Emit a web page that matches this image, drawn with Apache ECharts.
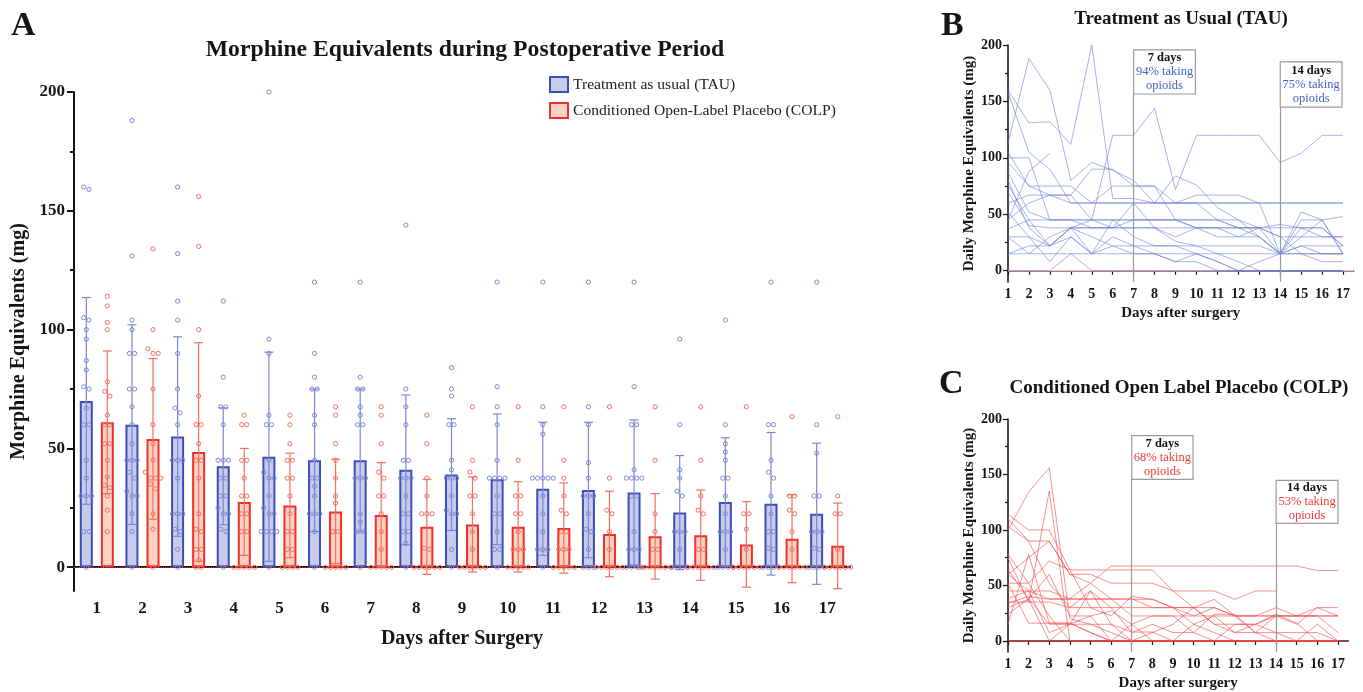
<!DOCTYPE html>
<html><head><meta charset="utf-8">
<script src="https://cdn.jsdelivr.net/npm/echarts@6/dist/echarts.min.js"></script>
<style>html,body{margin:0;padding:0;background:#fff}#c{width:1363px;height:692px}</style>
</head><body><div id="c"></div>
<script>
// ---------- DATA ----------
const days = [1,2,3,4,5,6,7,8,9,10,11,12,13,14,15,16,17];
const dayLabels = ['1','2','3','4','5','6','7','8','9','10','11','12','13','14','15','16','17'];
const yTicks = [0,50,100,150,200];
const yMinor = [25,75,125,175];
const legendNames = ['Treatment as usual (TAU)', 'Conditioned Open-Label Placebo (COLP)'];

// Panel A: means and SDs per day
const tauMean  = [70,60,55,42.5,46.5,45,45,41,39,37,33,32.5,31.5,23,27.5,26.7,22.5];
const tauSD    = [43.5,42,42,24.6,44,30,30,31.5,23.5,27.5,28,28.5,30.5,24,27,30,29.7];
const colpMean = [61,54,48.5,27.5,26,23.5,22,17,18,17,16.5,14,13,13.5,9.6,12,9];
const colpSD   = [30,33.8,46,22.5,22,22,22,20,20,19,19,18,18,19,18,18.5,18];

// Panel A: individual values per day
const tauPoints = [
  [160,159,105,104,100,96,87,83,76,75,67,60,60,45,37.5,30,30,30,15,15,0],
  [188,131,104,100,90,90,75,75,67.5,60,52,45,45,45,40,37.5,32,30,30,22.5,15,0],
  [160,132,112,104,90,75,67,65,60,45,45,45,37.5,22.5,22.5,22.5,16,15,7.5,0],
  [112,80,67.5,67.5,60,45,45,45,37.5,37.5,30,30,25,22.5,22.5,16,15,0],
  [200,96,90,64,60,60,45,40,37.5,37.5,30,25,22.5,22.5,15,15,15,15,0],
  [120,90,80,75,75,64,60,45,37.5,37.5,34,30,22.5,22.5,22.5,15,0],
  [120,80,75,75,67.5,64,60,60,37.5,37.5,37.5,22.5,19,15,15,0],
  [144,75,67.5,60,45,45,37.5,37.5,37.5,30,22.5,22.5,15,15,10,0],
  [84,75,72,60,60,45,41,37.5,37.5,37.5,30,24,22.5,22.5,7.5,0],
  [120,76,67.5,60,45,37.5,37.5,37.5,37.5,30,22.5,22.5,15,7.5,7.5,0],
  [120,67.5,60,56,37.5,37.5,37.5,37.5,37.5,30,22.5,15,7.5,7.5,7.5,0],
  [120,67.5,60,44,37.5,30,30,30,22.5,16,15,7.5,0,0,0],
  [120,76,60,60,41,37.5,37.5,37.5,37.5,30,30,15,7.5,7.5,7.5,0,0,0,0],
  [96,60,41,37.5,32,30,15,15,15,7.5,0,0,0,0],
  [104,60,52,48.5,45,37.5,37.5,30,22.5,15,15,15,7.5,0,0,0,0],
  [120,60,60,45,40,37.5,30,22.5,15,15,8,7.5,0,0,0,0],
  [120,60,48,30,30,15,15,15,8,7.5,0,0,0,0]
];
const colpPoints = [
  [114,110,103,100,78,74,72,64,60,60,52,52,45,38,34.5,33.5,30,24,15],
  [134,100,92,90,90,75,60,52,45,40,37.5,37.5,37.5,35,33,22.5,16,0],
  [156,135,100,72,60,60,52,45,45,37.5,22.5,16,15,7.5,7.5,3,0,0],
  [64,60,60,45,45,37.5,30,30,22.5,22.5,15,15,0,0,0,0,0],
  [64,60,52,45,45,37.5,37.5,30,22.5,15,15,7.5,7.5,0,0,0,0],
  [67.5,64,52,45,37.5,30,27,15,15,0,0,0,0,0],
  [67.5,64,52,40,37.5,30,30,22.5,15,7.5,0,0,0,0,0],
  [64,52,37.5,30,22.5,22.5,22.5,8,7.5,0,0,0,0,0,0],
  [67.5,45,40,37.5,30,30,22.5,15,7.5,0,0,0,0,0,0],
  [67.5,45,30,30,22.5,22.5,15,7.5,7.5,7.5,0,0,0,0,0],
  [67.5,45,37.5,30,24,22.5,15,15,7.5,7.5,7.5,0,0,0,0,0],
  [67.5,37.5,24,22.5,15,7.5,0,0,0,0,0,0],
  [67.5,45,22.5,15,7.5,7.5,0,0,0,0,0,0,0],
  [67.5,45,30,24,22.5,7.5,7.5,0,0,0,0,0,0],
  [67.5,22.5,22.5,16,7.5,0,0,0,0,0,0],
  [63.4,30,30,24,22.5,15,7.5,0,0,0,0,0,0],
  [63.4,30,22.5,22.5,7.5,0,0,0,0,0,0]
];

// Panel B: TAU patient trajectories (days 1..17)
const tauPatients = [
  [113,188,160,80,96,89,80,60,84,76,56,45,30,15,30,45,15],
  [160,131,132,112,200,64,64,60,60,60,45,45,38,30,15,15,15],
  [158,105,90,60,60,60,60,60,60,60,60,60,60,60,60,60,60],
  [105,75,67,67,45,120,120,144,72,120,120,120,120,96,104,120,120],
  [45,88,104,null,null,null,null,null,null,null,null,null,null,null,null,null,null],
  [100,100,45,45,45,45,45,45,45,45,45,38,30,15,15,8,8],
  [96,75,75,75,60,75,75,75,60,67,67,67,60,15,52,45,15],
  [87,52,45,45,38,38,38,38,30,38,38,30,38,41,38,38,22],
  [80,38,22,38,45,38,60,38,26,22,15,8,0,0,0,0,0],
  [76,45,22,30,15,45,30,22,22,15,8,0,8,15,22,15,15],
  [60,67,67,60,60,60,60,60,60,60,60,60,60,60,60,60,60],
  [45,60,67,67,90,90,75,75,45,38,30,30,30,15,38,38,22],
  [30,30,22,38,38,38,45,45,45,45,45,38,38,30,30,30,30],
  [37,45,45,45,45,45,45,45,45,38,38,38,38,38,38,30,30],
  [15,22,22,38,15,22,15,15,8,15,8,0,0,0,0,0,0],
  [15,15,15,15,15,15,15,15,15,15,15,15,15,15,15,15,15],
  [30,15,30,38,30,22,22,22,22,22,22,22,22,15,22,22,22],
  [52,30,8,30,15,30,22,15,8,8,0,0,0,0,0,0,0],
  [0,0,0,15,0,0,0,0,0,0,0,0,0,0,0,0,0],
  [70,40,38,38,38,38,38,38,38,38,38,38,38,15,45,45,48]
];
// Panel C: COLP patient trajectories (days 1..17)
const colpPatients = [
  [100,134,156,20,15,15,8,8,0,0,0,0,0,0,0,0,0],
  [114,100,100,64,64,64,64,64,45,45,45,37.5,45,45,null,null,null],
  [110,90,90,60,60,52,52,52,45,30,30,22.5,22.5,22.5,22.5,22.5,22.5],
  [75,35,135,0,0,0,0,0,0,0,0,0,0,0,0,0,0],
  [45,45,45,38,52,67.5,67.5,67.5,67.5,67.5,67.5,67.5,67.5,67.5,67.5,63.4,63.4],
  [60,75,90,60,52,38,38,30,30,22.5,30,22.5,22.5,30,22.5,30,30],
  [103,90,52,30,45,15,0,0,0,0,0,0,0,0,0,0,0],
  [64,38,15,15,45,30,7.5,15,7.5,7.5,0,15,15,22.5,15,30,22.5],
  [52,52,72,64,30,22.5,40,37.5,30,30,37.5,22.5,7.5,22.5,22.5,22.5,7.5],
  [38,45,38,38,38,38,22.5,22.5,22.5,22.5,22.5,22.5,22.5,22.5,22.5,22.5,22.5],
  [34,40,37.5,37.5,37.5,37.5,37.5,37.5,30,15,7.5,0,0,0,0,0,0],
  [30,37.5,0,15,15,7.5,0,0,0,0,0,0,0,0,0,0,0],
  [24,38,60,22.5,22.5,0,0,7.5,15,30,15,15,15,7.5,0,15,0],
  [15,78,16,16,7.5,0,0,0,0,0,0,0,0,0,0,0,0],
  [35,35,35,30,30,30,30,30,30,30,15,7.5,7.5,7.5,7.5,7.5,0],
  [60,45,7.5,15,22.5,27,15,22.5,22.5,7.5,24,24,7.5,0,0,0,0],
  [78,52,22.5,0,0,0,0,0,0,0,0,0,0,0,0,0,0],
  [0,0,0,0,0,0,0,0,0,0,0,0,0,0,0,0,0],
  [52,16,16,16,7.5,0,15,0,0,15,22.5,7.5,15,24,16,0,0]
];

// Panel B/C annotation boxes
const tauBox7 = ['7 days','94% taking','opioids'];
const tauBox14 = ['14 days','75% taking','opioids'];
const colpBox7 = ['7 days','68% taking','opioids'];
const colpBox14 = ['14 days','53% taking','opioids'];

// ---------- STYLE ----------
const FONT = '"Liberation Serif","Times New Roman",serif';
const BLUE = '#3b4fb8', BLUE_FILL = '#c8cbe9', BLUE_LT = '#7b88d4';
const RED = '#f0302a', RED_FILL = '#fcd2c2', RED_LT = '#f27062';
const TAU_LINE = 'rgba(95,118,212,0.62)', COLP_LINE = 'rgba(244,70,70,0.68)';
const TXT = '#151515';

function swarm(arr) {
  const s = arr.slice().sort((a,b)=>b-a);
  const out = [];
  let i = 0;
  while (i < s.length) {
    let j = i;
    while (j + 1 < s.length && Math.abs(s[j+1] - s[i]) < 2.6) j++;
    const n = j - i + 1;
    for (let k = 0; k < n; k++) out.push([s[i+k], (k - (n-1)/2) * 5.2]);
    i = j + 1;
  }
  return out;
}
function pointData(points) {
  const d = [];
  points.forEach((arr, di) => swarm(arr).forEach(([v, off]) => d.push([di, v, off])));
  return d;
}
function errData(mean, sd) { return mean.map((m,i)=>[i, m, sd[i]]); }

function errSeries(name, mean, sd, color, shift) {
  return {
    type:'custom', name, xAxisIndex:0, yAxisIndex:0, z:3,
    data: errData(mean, sd), encode:{x:0, y:1},
    renderItem(params, api) {
      const i = api.value(0), m = api.value(1), s = api.value(2);
      const top = api.coord([i, m + s]), bot = api.coord([i, m - s]);
      const x = top[0] + shift, cw = 4.5;
      const st = {stroke: color, lineWidth: 1.2};
      return {type:'group', children:[
        {type:'line', shape:{x1:x, y1:top[1], x2:x, y2:bot[1]}, style:st},
        {type:'line', shape:{x1:x-cw, y1:top[1], x2:x+cw, y2:top[1]}, style:st},
        {type:'line', shape:{x1:x-cw, y1:bot[1], x2:x+cw, y2:bot[1]}, style:st}
      ]};
    }
  };
}
function ptSeries(name, points, color, shift) {
  return {
    type:'custom', name, xAxisIndex:0, yAxisIndex:0, z:4,
    data: pointData(points), encode:{x:0, y:1},
    renderItem(params, api) {
      const p = api.coord([api.value(0), api.value(1)]);
      return {type:'circle', shape:{cx:p[0] + shift + api.value(2), cy:p[1], r:2.1},
        style:{fill:'none', stroke: color, lineWidth: 1}};
    }
  };
}
function boxLabel(lines) {
  return '{a|' + lines[0] + '}\n{b|' + lines[1] + '}\n{b|' + lines[2] + '}';
}
function boxRich(col) {
  return {
    a:{fontFamily:FONT, fontWeight:'bold', fontSize:12.5, color:'#111', lineHeight:14},
    b:{fontFamily:FONT, fontSize:12.5, color:col, lineHeight:14}
  };
}
function lineSeries(patients, xi, yi, color, extra) {
  return patients.map((p, k) => {
    const s = {
      type:'line', name:'p'+xi+'_'+k, xAxisIndex:xi, yAxisIndex:yi,
      data: p.map((v,i)=>[days[i], v]), showSymbol:false, symbol:'none',
      lineStyle:{color, width:0.9}, z:2, silent:true
    };
    if (k === patients.length - 1 && extra) Object.assign(s, extra);
    return s;
  });
}
function annot(box7, box14, col, b7, b14) {
  return {
    z:5,
    markLine:{silent:true, symbol:'none', label:{show:false},
      data:[
        [{coord:[7,-10], lineStyle:{color:'#9a9a9a', width:1.2, type:'solid'}}, {coord:[7,b7[0]]}],
        [{coord:[14,-10], lineStyle:{color:'#9a9a9a', width:1.2, type:'solid'}}, {coord:[14,b14[0]]}]
      ]},
    markArea:{silent:true,
      itemStyle:{color:'#ffffff', borderColor:'#9a9a9a', borderWidth:1.2},
      label:{show:true, position:'inside', rich: boxRich(col)},
      data:[
        [{coord:[7,b7[0]], label:{formatter: boxLabel(box7)}}, {coord:[b7[2],b7[1]]}],
        [{coord:[14,b14[0]], label:{formatter: boxLabel(box14)}}, {coord:[b14[2],b14[1]]}]
      ]}
  };
}

const labelStyle = {fontFamily:FONT, fontWeight:'bold', color:TXT};

function valueY(grid, size, nameTxt, nameSize, gap, minorOnly) {
  return {
    type:'value', gridIndex:grid, min:-10, max:200, position:'left',
    axisLine:{show:!minorOnly, lineStyle:{color:'#111', width: grid===0?2:1.5}},
    axisTick:{show:true, customValues: minorOnly ? yMinor : yTicks, length: minorOnly ? (grid===0?4:3) : (grid===0?7:5),
      lineStyle:{color:'#111', width: grid===0?2:1.2}},
    axisLabel:{show:!minorOnly, customValues:yTicks, fontSize:size, margin: grid===0?9:6, ...labelStyle},
    splitLine:{show:false},
    name: minorOnly ? '' : nameTxt, nameLocation:'middle', nameGap:gap,
    nameTextStyle:{fontSize:nameSize, ...labelStyle}
  };
}
function valueX(grid, name) {
  return {
    type:'value', gridIndex:grid, min:1, max:17.5,
    axisLine:{lineStyle:{color:'#111', width:1.5}},
    axisTick:{show:true, customValues:days, length:4, lineStyle:{color:'#111', width:1.2}},
    axisLabel:{customValues:days, fontSize:14, margin:5, ...labelStyle},
    splitLine:{show:false},
    name, nameLocation:'middle', nameGap:24, nameTextStyle:{fontSize:15, ...labelStyle}
  };
}

const chart = echarts.init(document.getElementById('c'), null, {renderer:'canvas'});
const series = [
  {type:'bar', name:legendNames[0], xAxisIndex:0, yAxisIndex:0, data:tauMean, barWidth:13, barGap:'62%', z:2,
    itemStyle:{color:BLUE_FILL, borderColor:BLUE, borderWidth:2}},
  {type:'bar', name:legendNames[1], xAxisIndex:0, yAxisIndex:0, data:colpMean, barWidth:13, barGap:'62%', z:2,
    itemStyle:{color:RED_FILL, borderColor:RED, borderWidth:2},
    markLine:{silent:true, symbol:'none', label:{show:false}, lineStyle:{color:'#e8403a', type:'dotted', width:1.2},
      data:[{yAxis:0}]}},
  errSeries('errTau', tauMean, tauSD, BLUE_LT, -10.5),
  errSeries('errColp', colpMean, colpSD, RED_LT, 10.5),
  ptSeries('ptTau', tauPoints, BLUE_LT, -10.5),
  ptSeries('ptColp', colpPoints, RED_LT, 10.5),
  {type:'line', name:'zeroB', xAxisIndex:1, yAxisIndex:2, data:[[1,0],[17.5,0]], showSymbol:false,
    lineStyle:{color:'#f6c4c4', width:1.5}, z:1, silent:true},
  {type:'line', name:'zeroC', xAxisIndex:2, yAxisIndex:4, data:[[1,0],[17.5,0]], showSymbol:false,
    lineStyle:{color:'rgba(242,60,60,0.75)', width:1}, z:1, silent:true},
  ...lineSeries(tauPatients, 1, 2, TAU_LINE, annot(tauBox7, tauBox14, '#3f63c8', [156.6,195.6,9.95], [145,185,16.95])),
  ...lineSeries(colpPatients, 2, 4, COLP_LINE, annot(colpBox7, colpBox14, '#f03a3a', [145.6,185,9.97], [106,144.7,17]))
];

const tt = (size) => ({fontFamily:FONT, fontWeight:'bold', fontSize:size, color:TXT});
chart.setOption({
  animation:false,
  backgroundColor:'#ffffff',
  textStyle:{fontFamily:FONT},
  title:[
    {text:'A', left:11, top:9, padding:0, textStyle:tt(34)},
    {text:'Morphine Equivalents during Postoperative Period', left:465, top:38, padding:0, textAlign:'center', textStyle:tt(23.7)},
    {text:'B', left:941, top:9, padding:0, textStyle:tt(34)},
    {text:'Treatment as Usual (TAU)', left:1181, top:10, padding:0, textAlign:'center', textStyle:tt(19)},
    {text:'C', left:939, top:367, padding:0, textStyle:tt(34)},
    {text:'Conditioned Open Label Placebo (COLP)', left:1179, top:379, padding:0, textAlign:'center', textStyle:tt(19)}
  ],
  legend:{data:legendNames, orient:'vertical', left:549, top:76, padding:0, itemWidth:18, itemHeight:15, itemGap:9,
    icon:'rect', textStyle:{fontFamily:FONT, fontSize:15.6, color:'#222'}},
  grid:[
    {left:74, top:92, width:776, height:499},
    {left:1008, top:45, width:345.5, height:237},
    {left:1008, top:419, width:340.3, height:234}
  ],
  xAxis:[
    {type:'category', gridIndex:0, data:dayLabels,
      axisLine:{lineStyle:{color:'#111', width:2}}, axisTick:{show:false},
      axisLabel:{fontSize:17, margin:9, ...labelStyle},
      name:'Days after Surgery', nameLocation:'middle', nameGap:38, nameTextStyle:{fontSize:20, ...labelStyle}},
    valueX(1, 'Days after surgery'),
    valueX(2, 'Days after surgery')
  ],
  yAxis:[
    valueY(0, 17, 'Morphine Equivalents (mg)', 20, 34, false),
    valueY(0, 17, '', 20, 34, true),
    valueY(1, 14, 'Daily Morphine Equivalents (mg)', 15, 23, false),
    valueY(1, 14, '', 15, 23, true),
    valueY(2, 14, 'Daily Morphine Equivalents (mg)', 15, 23, false),
    valueY(2, 14, '', 15, 23, true)
  ],
  series
});
</script></body></html>
